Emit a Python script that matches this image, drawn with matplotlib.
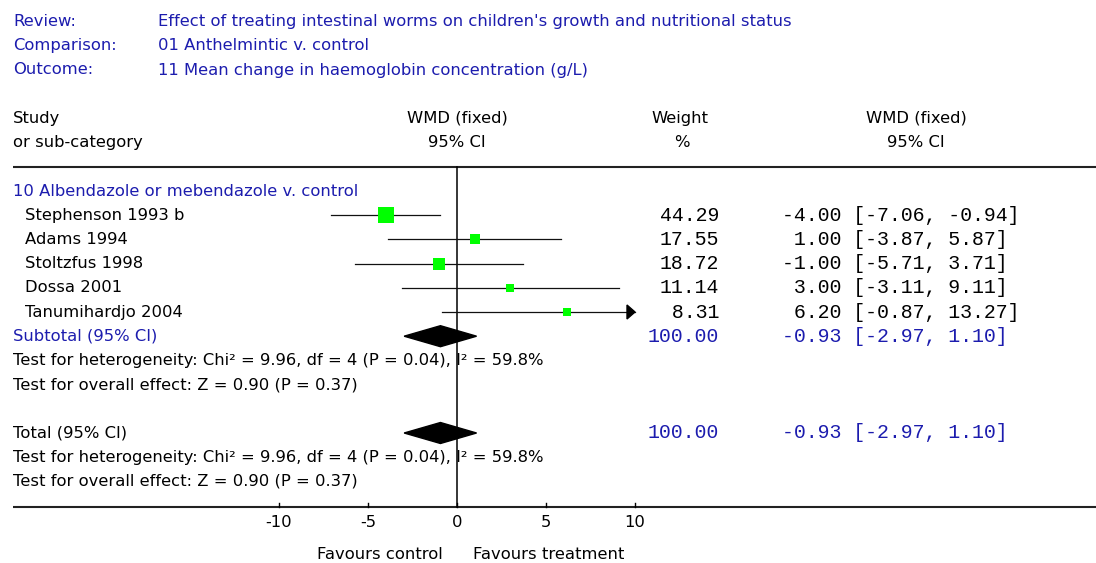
import matplotlib
matplotlib.use("Agg")
import matplotlib.pyplot as plt
import matplotlib.transforms as mtransforms
from matplotlib.patches import Polygon

# %%
# Data
studies = ["Stephenson 1993 b", "Adams 1994", "Stoltzfus 1998", "Dossa 2001", "Tanumihardjo 2004"]
weights = [44.29, 17.55, 18.72, 11.14, 8.31]
wmd = [-4.00, 1.00, -1.00, 3.00, 6.20]
ci_low = [-7.06, -3.87, -5.71, -3.11, -0.87]
ci_high = [-0.94, 5.87, 3.71, 9.11, 13.27]

pooled_wmd = -0.93
pooled_low = -2.97
pooled_high = 1.10
pooled_weight = 100.00

header_keys = ["Review:", "Comparison:", "Outcome:"]
header_values = ["Effect of treating intestinal worms on children's growth and nutritional status",
                 "01 Anthelmintic v. control",
                 "11 Mean change in haemoglobin concentration (g/L)"]
subgroup = "10 Albendazole or mebendazole v. control"
het_text = "Test for heterogeneity: Chi\u00b2 = 9.96, df = 4 (P = 0.04), I\u00b2 = 59.8%"
overall_text = "Test for overall effect: Z = 0.90 (P = 0.37)"
xticks = [-10, -5, 0, 5, 10]
label_left = "Favours control"
label_right = "Favours treatment"

# %%
# Layout (pixels of a 1096x563 image)
W, H = 1096, 563
X0, PPU = 457, 17.8          # pixel of x=0, pixels per unit
ROW0, ROWH = 191, 24.2       # pixel of first row, row height
BLUE = "#1c1cae"
GREEN = "#00ff00"
SANS = "DejaVu Sans"
MONO = "Liberation Mono"
FS = 11.8
FM = 14.3

fig = plt.figure(figsize=(W / 100, H / 100), dpi=100)
ax = fig.add_axes([0, 0, 1, 1])
ax.set_xlim((0 - X0) / PPU, (W - X0) / PPU)
ax.set_ylim((H - ROW0) / ROWH, (0 - ROW0) / ROWH)
ax.axis("off")

tr = mtransforms.blended_transform_factory(ax.transAxes, ax.transData)


def txt(px, row, s, ha="left", color="black", family=SANS, size=FS):
    ax.text(px / W, row, s, transform=tr, ha=ha, va="center", color=color,
            family=family, fontsize=size)


# header block
for i, (k, v) in enumerate(zip(header_keys, header_values)):
    txt(13, -7 + i, k, color=BLUE)
    txt(158, -7 + i, v, color=BLUE)

txt(13, -3, "Study")
txt(13, -2, "or sub-category")
txt(X0, -3, "WMD (fixed)", ha="center")
txt(X0, -2, "95% CI", ha="center")
txt(680, -3, "Weight", ha="center")
txt(682, -2, "%", ha="center")
txt(916, -3, "WMD (fixed)", ha="center")
txt(916, -2, "95% CI", ha="center")

# frame lines
xl = (13 - X0) / PPU
xr = (W - X0) / PPU
ax.plot([xl, xr], [-1, -1], color="#222222", lw=1.5, solid_capstyle="butt")
ax.plot([xl, xr], [13.05, 13.05], color="#222222", lw=1.5, solid_capstyle="butt")
ax.plot([0, 0], [-1, 13.05], color="black", lw=1.1)

# subgroup
txt(13, 0, subgroup, color=BLUE)
xmax = 10
for i, name in enumerate(studies):
    row = i + 1
    txt(25, row, name)
    hi = min(ci_high[i], xmax)
    ax.plot([ci_low[i], hi], [row, row], color="#111111", lw=0.9, zorder=2)
    if ci_high[i] > xmax:
        head_len = 8 / PPU
        head_h = 7 / ROWH
        ax.add_patch(Polygon([[xmax, row], [xmax - head_len, row - head_h],
                              [xmax - head_len, row + head_h]],
                             closed=True, color="black", zorder=3))
    size_px = 1.9 + 2.12 * weights[i] ** 0.5
    ax.plot(wmd[i], row, marker="s", markersize=size_px * 0.72,
            color=GREEN, markeredgewidth=0, zorder=4)
    txt(719, row, f"{weights[i]:5.2f}", ha="right", family=MONO, size=FM)
    txt(782, row, f"{wmd[i]:5.2f} [{ci_low[i]:.2f}, {ci_high[i]:.2f}]",
        family=MONO, size=FM)


def pooled_block(row, label):
    txt(13, row, label, color=BLUE if label.startswith("Sub") else "black")
    dh = 10.5 / ROWH
    ax.add_patch(Polygon([[pooled_low, row], [pooled_wmd, row - dh],
                          [pooled_high, row], [pooled_wmd, row + dh]],
                         closed=True, color="black", zorder=3))
    txt(719, row, f"{pooled_weight:.2f}", ha="right", color=BLUE, family=MONO, size=FM)
    txt(782, row, f"{pooled_wmd:5.2f} [{pooled_low:.2f}, {pooled_high:.2f}]",
        color=BLUE, family=MONO, size=FM)
    txt(13, row + 1, het_text)
    txt(13, row + 2, overall_text)


pooled_block(6, "Subtotal (95% CI)")
pooled_block(10, "Total (95% CI)")

# x axis ticks
for t in xticks:
    ax.plot([t, t], [13.05, 13.05 - 4 / ROWH], color="black", lw=1)
    ax.text(t, 13.68, f"{t}", ha="center", va="center", family=SANS, fontsize=FS)

txt(X0 - 14, 15.04, label_left, ha="right")
txt(X0 + 16, 15.04, label_right, ha="left")

fig.savefig("out.png", dpi=100, facecolor="white")
